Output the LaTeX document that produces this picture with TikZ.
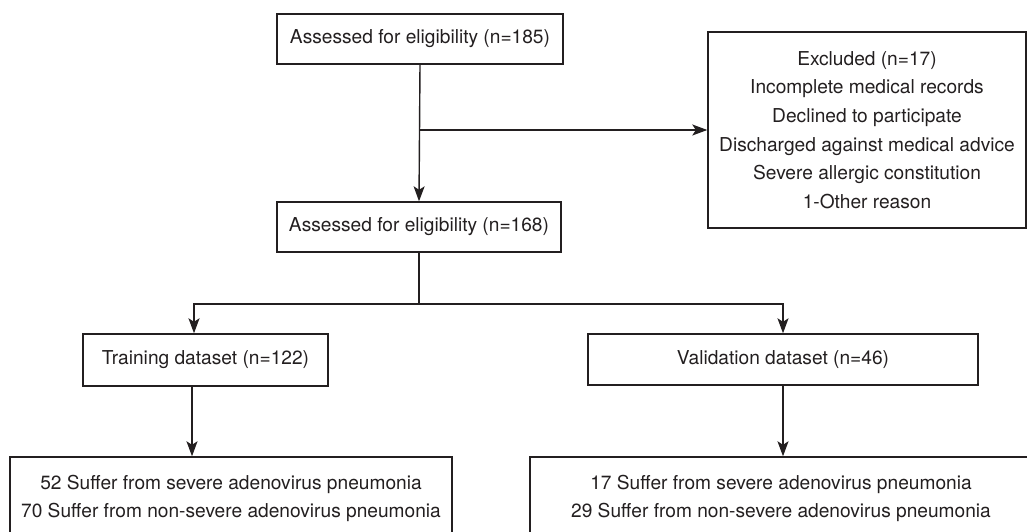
\documentclass[tikz,border=0pt]{standalone}
\usepackage{fontspec}
\setmainfont{TeX Gyre Heros}
\usetikzlibrary{arrows.meta}

\definecolor{inkgray}{HTML}{231F20}

\begin{document}
\begin{tikzpicture}[x=0.02cm,y=-0.02cm,
        box/.style={draw=inkgray,line width=0.8pt,inner sep=0pt,align=center,
            text=inkgray,font=\fontsize{10.9}{16.3}\selectfont},
        arr/.style={draw=inkgray,line width=0.8pt,
            -{Stealth[length=0.3cm,width=0.22cm,inset=0.07cm]}},
        line/.style={draw=inkgray,line width=0.8pt}]
        \clip (0,0) rectangle (1027,531);

        \node[box,minimum width=286*0.02cm,minimum height=50*0.02cm] (a185) at (420,39) {Assessed for eligibility (n=185)};
        \node[box,minimum width=284*0.02cm,minimum height=50*0.02cm] (a168) at (419,227) {Assessed for eligibility (n=168)};
        \node[box,minimum width=318*0.02cm,minimum height=196*0.02cm] (excl) at (867,130) {Excluded (n=17)\\Incomplete medical records\\Declined to participate\\Discharged against medical advice\\Severe allergic constitution\\1-Other reason};

        \node[box,minimum width=245*0.02cm,minimum height=52*0.02cm] (train) at (205.5,360) {Training dataset (n=122)};
        \node[box,minimum width=390*0.02cm,minimum height=51*0.02cm] (valid) at (783,359.5) {Validation dataset (n=46)};

        \node[box,minimum width=442*0.02cm,minimum height=83*0.02cm] (trainres) at (231,498.5) {52 Suffer from severe adenovirus pneumonia\\70 Suffer from non-severe adenovirus pneumonia};
        \node[box,minimum width=502*0.02cm,minimum height=83*0.02cm] (validres) at (781,498.5) {17 Suffer from severe adenovirus pneumonia\\29 Suffer from non-severe adenovirus pneumonia};

        \draw[arr] (a185.south) -- (a168.north);
        \draw[arr] (a185.south |- excl.west) -- (excl.west);

        \coordinate (split) at (a168.south |- 0,304);
        \draw[line] (a168.south) -- (split);
        \draw[arr] (split) -| ([xshift=-0.23cm]train.north);
        \draw[arr] (split) -| (valid.north);

        \draw[arr] ([xshift=-0.27cm]train.south) -- ([xshift=-0.27cm]train.south |- trainres.north);
        \draw[arr] (valid.south) -- (valid.south |- validres.north);
\end{tikzpicture}
\end{document}
